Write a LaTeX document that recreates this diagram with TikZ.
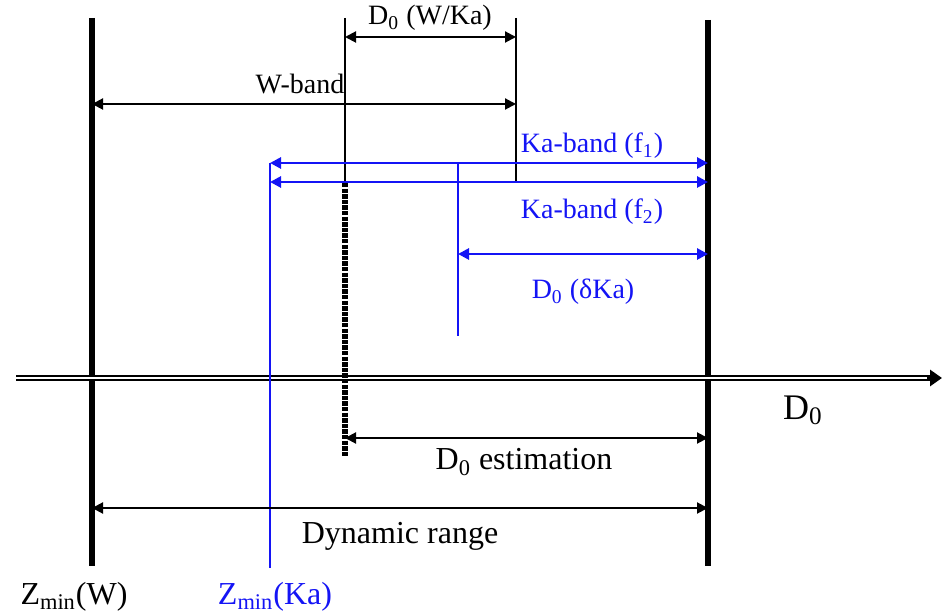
\documentclass[tikz,border=0pt]{standalone}
\usepackage{fontspec}
\setmainfont{Liberation Serif}
\usetikzlibrary{arrows.meta}
\definecolor{kablue}{RGB}{20,20,245}

\begin{document}
\begin{tikzpicture}[
  x=0.5pt, y=-0.5pt,
  bar/.style={line width=3pt},
  guide/.style={line width=0.7pt},
  dim/.style={{Triangle[length=5.5pt,width=5.5pt]}-{Triangle[length=5.5pt,width=5.5pt]}, line width=1pt},
  kadim/.style={dim, kablue, line width=1.4pt},
  lbl/.style={font=\fontsize{14}{16}\selectfont, inner sep=1pt},
  biglbl/.style={font=\fontsize{16}{18}\selectfont, inner sep=1pt}
]
\useasboundingbox (0,0) rectangle (946,613);

% limits of the two radars
\coordinate (wtop) at (92,18);
\coordinate (wbot) at (92,566);
\coordinate (rtop) at (708,20);
\coordinate (rbot) at (708,566);
\draw[bar] (wtop) -- (wbot);
\draw[bar] (rtop) -- (rbot);

% axis
\coordinate (axl) at (16,378);
\coordinate (axr) at (942,378);
\draw[line width=3pt, -{Triangle[length=6pt,width=8pt]}] (axl) -- (axr);
\draw[white, line width=0.8pt] (axl) -- (927,378);
\node[biglbl, font=\fontsize{18}{20}\selectfont] (dlab) at (803,410) {D\textsubscript{0}};

% guides
\coordinate (ga) at (345,18);
\coordinate (gb) at (345,183);
\coordinate (gc) at (345,456);
\coordinate (gd) at (516,18);
\coordinate (ge) at (516,183);
\draw[guide] (ga) -- (gb);
\draw[guide] (gd) -- (ge);
\draw[line width=2.6pt, dash pattern=on 2.2pt off 0.6pt] (gb) -- (gc);

% W band
\coordinate (dwl) at (345,37);
\coordinate (dwr) at (516,37);
\draw[dim] (dwl) -- (dwr);
\node[lbl] (dwlab) at (430,18) {D\textsubscript{0} (W/Ka)};
\coordinate (wbl) at (92,104);
\coordinate (wbr) at (516,104);
\draw[dim] (wbl) -- (wbr);
\node[lbl] (wlab) at (300,84) {W-band};

% Ka band
\coordinate (kzt) at (270,163);
\coordinate (kzb) at (270,568);
\coordinate (kdt) at (458,163);
\coordinate (kdb) at (458,336);
\draw[kablue, guide] (kzt) -- (kzb);
\draw[kablue, guide] (kdt) -- (kdb);
\coordinate (kar) at (708,163);
\coordinate (kbl) at (270,182);
\coordinate (kbr) at (708,182);
\draw[kadim] (kzt) -- (kar);
\draw[kadim] (kbl) -- (kbr);
\node[lbl, kablue] (kalab) at (592,146) {Ka-band (f\textsubscript{1})};
\node[lbl, kablue] (kblab) at (592,212) {Ka-band (f\textsubscript{2})};
\coordinate (kdl) at (458,254);
\coordinate (kdr) at (708,254);
\draw[kadim] (kdl) -- (kdr);
\node[lbl, kablue] (kdlab) at (583,292) {D\textsubscript{0} (δKa)};

% ranges
\coordinate (el) at (345,438);
\coordinate (er) at (708,438);
\draw[dim] (el) -- (er);
\node[biglbl] (elab) at (524,462) {D\textsubscript{0} estimation};
\coordinate (rl) at (92,508);
\coordinate (rr) at (708,508);
\draw[dim] (rl) -- (rr);
\node[biglbl] (rlab) at (400,536) {Dynamic range};

% lower labels
\node[biglbl] (zwlab) at (74,597) {Z\textsubscript{min}(W)};
\node[biglbl, kablue] (zklab) at (275,597) {Z\textsubscript{min}(Ka)};
\end{tikzpicture}
\end{document}
